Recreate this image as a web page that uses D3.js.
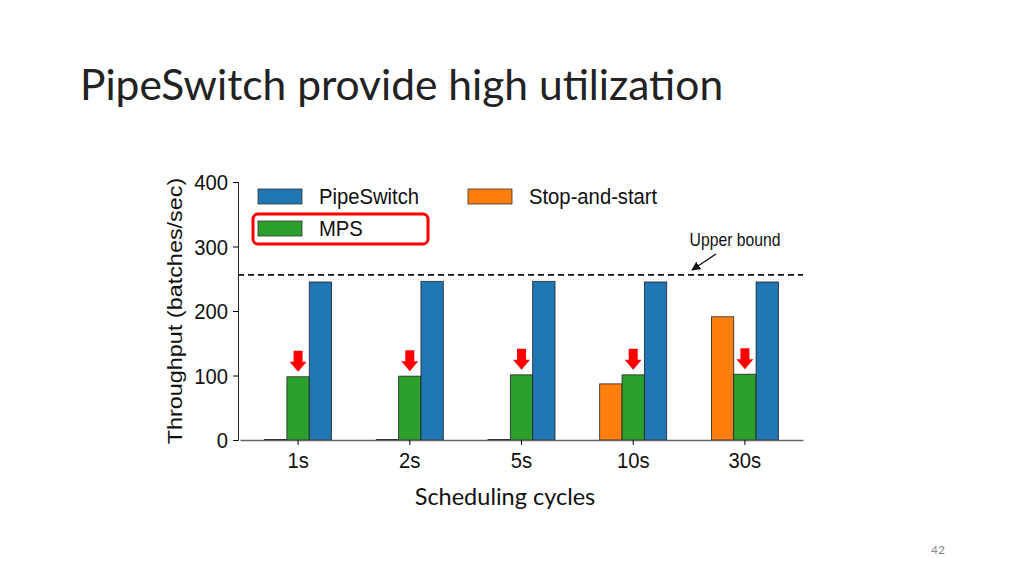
<!DOCTYPE html>
<html><head><meta charset="utf-8">
<script src="https://cdn.jsdelivr.net/npm/d3@7"></script>
<style>body{margin:0;background:#fff}svg{display:block}</style>
</head><body>
<svg id="c" width="1024" height="576"></svg>
<script>
const categories = ["1s","2s","5s","10s","30s"];
const seriesNames = ["Stop-and-start","MPS","PipeSwitch"];
const stopAndStart = [0.8, 0.8, 0.8, 87, 191];
const mps = [98, 99, 101, 101, 102];
const pipeSwitch = [245, 246, 246, 245, 245];
const yTicks = [0,100,200,300,400];
const upperBound = 256;
const colors = {"Stop-and-start":"#ff7f0e","MPS":"#2ca02c","PipeSwitch":"#1f77b4"};

const FONT = "Liberation Sans, Arial, sans-serif";
const SX = 0.9;
const svg = d3.select("#c");
const y = d3.scaleLinear().domain([0,400]).range([440,182]);
const x = d3.scaleBand().domain(categories).range([240,803]).paddingInner(0.4).paddingOuter(0.22);
const xi = d3.scaleBand().domain(seriesNames).range([0,x.bandwidth()]);
const valuesBy = {"Stop-and-start":stopAndStart,"MPS":mps,"PipeSwitch":pipeSwitch};

function sText(px, py, str, size, anchor){
  return svg.append("text").attr("transform",`translate(${px},${py}) scale(${SX},1)`)
    .attr("text-anchor",anchor||"start").attr("font-family",FONT).attr("font-size",size).attr("fill","#111").text(str);
}

// title
svg.append("text").attr("x",80).attr("y",100).attr("font-family","Lato, 'Open Sans', sans-serif")
  .attr("font-size",42.5).attr("fill","#222").text("PipeSwitch provide high utilization");

// bars
seriesNames.forEach(s=>{
  svg.append("g").selectAll("rect").data(categories).join("rect")
    .attr("x",c=>x(c)+xi(s)).attr("width",xi.bandwidth())
    .attr("y",(c,i)=>y(valuesBy[s][i])).attr("height",(c,i)=>y(0)-y(valuesBy[s][i]))
    .attr("fill",colors[s]).attr("stroke","#222").attr("stroke-width",0.8);
});

// red arrows above MPS bars
categories.forEach((c,i)=>{
  const cx = x(c)+xi("MPS")+xi.bandwidth()/2;
  const top = y(mps[i]) - 26;
  svg.append("path").attr("fill","#ff0000")
    .attr("d",`M${cx-4.5},${top} L${cx+4.5},${top} L${cx+4.5},${top+11} L${cx+8.5},${top+11} L${cx},${top+21} L${cx-8.5},${top+11} L${cx-4.5},${top+11} Z`);
});

// axes
const yAxis = svg.append("g").attr("transform","translate(238,0)")
  .call(d3.axisLeft(y).tickValues(yTicks).tickSize(5).tickFormat(""));
yAxis.select(".domain").attr("stroke","#222");
yTicks.forEach(t=> sText(228, y(t)+8, String(t), 22.5, "end"));
const xAxis = svg.append("g").attr("transform","translate(0,440)")
  .call(d3.axisBottom(x).tickSize(5).tickSizeOuter(0).tickFormat(""));
xAxis.select(".domain").attr("stroke","#666").attr("stroke-width",1.5);
categories.forEach(c=> sText(x(c)+x.bandwidth()/2, 468, c, 22.5, "middle"));

// y axis title
svg.append("text").attr("transform",`translate(182,311) rotate(-90) scale(1,${SX})`).attr("text-anchor","middle")
  .attr("font-family",FONT).attr("font-size",23.4).attr("fill","#111")
  .text("Throughput (batches/sec)");

// upper bound
svg.append("line").attr("x1",238).attr("x2",803).attr("y1",y(upperBound)).attr("y2",y(upperBound))
  .attr("stroke","#111").attr("stroke-width",1.8).attr("stroke-dasharray","6,4");
sText(735, 246, "Upper bound", 17.5, "middle");
svg.append("defs").append("marker").attr("id","ah").attr("viewBox","0 0 10 10").attr("refX",9).attr("refY",5)
  .attr("markerWidth",7).attr("markerHeight",7).attr("orient","auto")
  .append("path").attr("d","M0,0 L10,5 L0,10 Z").attr("fill","#111");
svg.append("line").attr("x1",716).attr("y1",254).attr("x2",692).attr("y2",270)
  .attr("stroke","#111").attr("stroke-width",1.3).attr("marker-end","url(#ah)");

// legend
const legend = [
  {name:"PipeSwitch", x:258, y:189},
  {name:"Stop-and-start", x:468, y:189},
  {name:"MPS", x:258, y:221}
];
legend.forEach(l=>{
  svg.append("rect").attr("x",l.x).attr("y",l.y).attr("width",44).attr("height",15)
    .attr("fill",colors[l.name]).attr("stroke","#333").attr("stroke-width",0.8);
  sText(l.x+61, l.y+15, l.name, 22.5, "start");
});
svg.append("rect").attr("x",253).attr("y",214).attr("width",175).attr("height",30).attr("rx",5)
  .attr("fill","none").attr("stroke","#ff0000").attr("stroke-width",3);

// x axis title
svg.append("text").attr("x",505).attr("y",505).attr("text-anchor","middle")
  .attr("font-family","Lato, 'Open Sans', sans-serif").attr("font-size",23.5).attr("fill","#111").text("Scheduling cycles");

// page number
svg.append("text").attr("x",938).attr("y",554).attr("text-anchor","middle")
  .attr("font-family","Lato, 'Open Sans', sans-serif").attr("font-size",12).attr("fill","#888").text("42");
</script>
</body></html>
